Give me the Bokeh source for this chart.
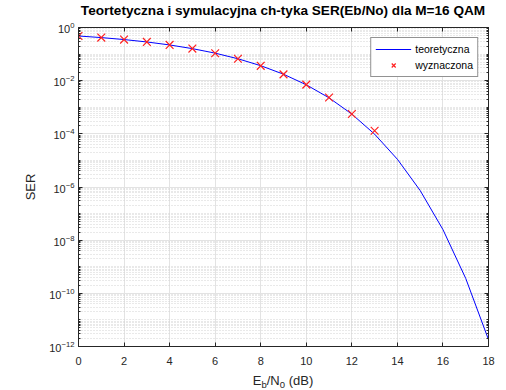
from bokeh.plotting import figure
from bokeh.layouts import column
from bokeh.models import (FixedTicker, LogAxis, LinearAxis, Legend, LegendItem,
                          Div, CustomJSTickFormatter, Range1d)
from bokeh.embed import file_html
from bokeh.resources import INLINE

# ---- data ----
ebn0_theory = list(range(0, 19))
ser_theory = [0.4792, 0.4173, 0.3522, 0.2856, 0.2207, 0.1604, 0.1084, 0.0667,
              0.0366, 0.0175, 0.00700, 0.00226, 5.53e-4, 9.72e-5, 1.105e-5,
              7.37e-7, 2.50e-8, 3.64e-10, 1.81e-12]
ebn0_sim = list(range(0, 14))
ser_sim = [0.478, 0.418, 0.351, 0.287, 0.221, 0.161, 0.108, 0.0665, 0.0362,
           0.0172, 0.0071, 0.00232, 5.6e-4, 1.3e-4]
x_ticks = [0, 2, 4, 6, 8, 10, 12, 14, 16, 18]
y_exponents = [-12, -10, -8, -6, -4, -2, 0]
title_text = "Teortetyczna i symulacyjna ch-tyka SER(Eb/No) dla M=16 QAM"

FONT = "Liberation Sans"
AXC = "#262626"

y_major = [10.0 ** e for e in y_exponents]
y_minor = [k * 10.0 ** e for e in range(-12, 0) for k in range(1, 10)
           if k * 10.0 ** e not in y_major]

# title as real HTML text, centred over the plot frame
title_html = ('<div style="width:506px;height:20px;box-sizing:border-box;'
              'padding-left:60px;padding-top:1px;text-align:center;'
              'font-family:\'Liberation Sans\';font-weight:bold;font-size:13.6px;'
              'line-height:20px;color:#000;white-space:nowrap">' + title_text + '</div>')
title_div = Div(text=title_html, width=506, height=20, margin=(0, 0, 0, 0))

p = figure(width=506, height=352, output_backend="svg", toolbar_location=None,
           y_axis_type="log", x_range=Range1d(0, 18), y_range=Range1d(1e-12, 1),
           min_border_left=78, min_border_right=18, min_border_top=7,
           min_border_bottom=26, background_fill_color="white",
           border_fill_color="white", margin=(0, 0, 0, 0))

p.outline_line_color = AXC
p.outline_line_width = 1

xt = FixedTicker(ticks=x_ticks, minor_ticks=[])
yt = FixedTicker(ticks=y_major, minor_ticks=y_minor)

for ax in p.xaxis:
    ax.ticker = xt
for ax in p.yaxis:
    ax.ticker = yt

def style_axis(ax):
    ax.axis_line_color = AXC
    ax.major_tick_line_color = AXC
    ax.minor_tick_line_color = AXC
    ax.major_tick_in = 4
    ax.major_tick_out = 0
    ax.minor_tick_in = 2
    ax.minor_tick_out = 0
    ax.major_label_text_font = FONT
    ax.major_label_text_font_size = "11px"
    ax.major_label_text_color = AXC

style_axis(p.xaxis[0])
p.xaxis[0].minor_tick_in = 0
p.xaxis[0].major_label_standoff = 10
style_axis(p.yaxis[0])
p.yaxis[0].major_label_standoff = 4
p.yaxis[0].axis_label = "SER"
p.yaxis[0].axis_label_text_font = FONT
p.yaxis[0].axis_label_text_font_size = "13px"
p.yaxis[0].axis_label_text_font_style = "normal"
p.yaxis[0].axis_label_text_color = AXC
p.yaxis[0].axis_label_standoff = 8

empty = CustomJSTickFormatter(code="return ''")
top_ax = LinearAxis(ticker=xt, formatter=empty)
style_axis(top_ax)
top_ax.minor_tick_in = 0
top_ax.major_label_standoff = 0
p.add_layout(top_ax, "above")

right_ax = LogAxis(ticker=yt, formatter=empty)
style_axis(right_ax)
right_ax.major_label_standoff = 0
p.add_layout(right_ax, "right")

p.xgrid.grid_line_color = "#e3e3e3"
p.ygrid.grid_line_color = "#e3e3e3"
p.ygrid.minor_grid_line_color = "#d2d2d2"
p.ygrid.minor_grid_line_dash = "1 2"

r_line = p.line(ebn0_theory, ser_theory, line_color="#0000ff", line_width=1)
r_sim = p.scatter(ebn0_sim, ser_sim, marker="x", size=11, line_color="#ff2020",
                  line_width=1.2)

legend = Legend(items=[LegendItem(label="teoretyczna", renderers=[r_line]),
                       LegendItem(label="wyznaczona", renderers=[r_sim])],
                location="top_right", label_text_font=FONT,
                label_text_font_size="10.5px", label_text_color="black",
                glyph_width=36, glyph_height=14, spacing=2, padding=4,
                margin=10, label_standoff=4, border_line_color=AXC,
                border_line_width=1, background_fill_color="white",
                background_fill_alpha=1)
p.add_layout(legend)

# x-axis label with subscripts, as real HTML text
sub = '<sub style="font-size:9.5px;vertical-align:-3px;line-height:0">'
xlabel_html = ('<div style="width:506px;height:18px;box-sizing:border-box;'
               'padding-left:60px;text-align:center;font-family:\'Liberation Sans\';'
               'font-size:13px;line-height:18px;color:#262626;white-space:nowrap">'
               'E' + sub + 'b</sub>/N' + sub + '0</sub> (dB)</div>')
xlabel = Div(text=xlabel_html, width=506, height=18, margin=(0, 0, 0, 0))

layout = column(title_div, p, xlabel, spacing=0, margin=(0, 0, 0, 0))

open("out.html", "w").write(file_html(layout, INLINE))
